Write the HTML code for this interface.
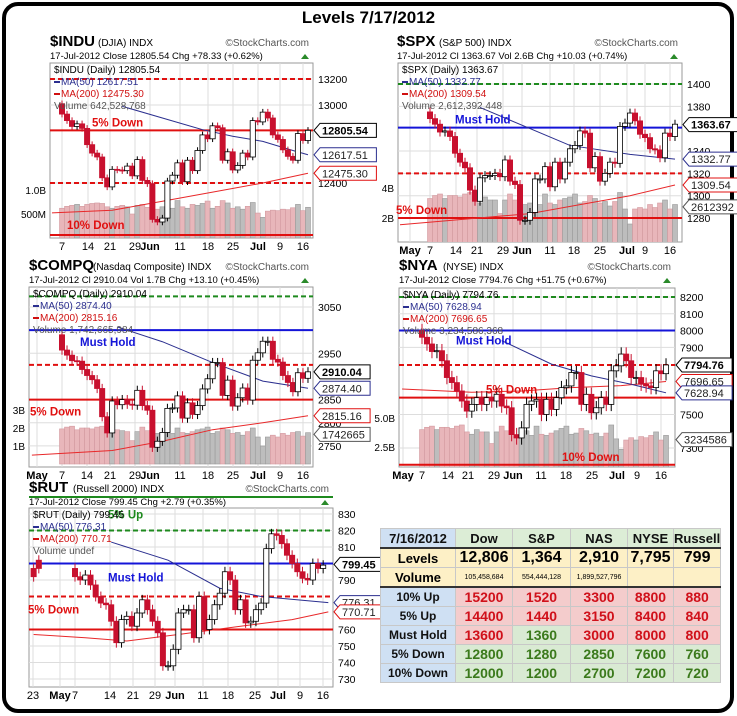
<!DOCTYPE html>
<html><head><meta charset="utf-8"><style>
html,body{margin:0;padding:0;background:#fff;}
body{width:737px;height:716px;overflow:hidden;position:relative;font-family:"Liberation Sans",sans-serif;}
#frame{position:absolute;left:2px;top:2px;width:724px;height:703px;border:4px solid #000;border-radius:16px;}
#title{position:absolute;left:0;width:737px;top:8px;text-align:center;font-weight:bold;font-size:17px;}
svg{position:absolute;left:0;top:0;}
table{position:absolute;left:380px;top:528px;border-collapse:collapse;font-family:"Liberation Sans",sans-serif;font-weight:bold;}
td{border:1px solid #c8c8c8;padding:0;text-align:center;height:18px;font-size:13px;}
.lb{background:#cfe0f3;color:#111;font-size:12px;}
.hd{background:#dcedd6;color:#111;font-size:13px;}
.yl{background:#fdf0c6;color:#000;}
.pk{background:#f4cccc;color:#d0101a;font-size:14px;}
.gr{background:#d9ead3;color:#3b7a1c;font-size:14px;}
</style></head><body>
<div id="frame"></div>
<div id="title">Levels 7/17/2012</div>
<svg id="chart" width="737" height="716"></svg>
<table>
<tr style="height:17px"><td class="lb" style="width:74px;font-size:13px">7/16/2012</td><td class="hd" style="width:56px">Dow</td><td class="hd" style="width:57px">S&amp;P</td><td class="hd" style="width:56px">NAS</td><td class="hd" style="width:45px">NYSE</td><td class="hd" style="width:45px">Russell</td></tr>
<tr style="border-top:2px solid #333"><td class="yl" style="font-size:13px">Levels</td><td class="yl" style="font-size:16px">12,806</td><td class="yl" style="font-size:16px">1,364</td><td class="yl" style="font-size:16px">2,910</td><td class="yl" style="font-size:16px">7,795</td><td class="yl" style="font-size:16px">799</td></tr>
<tr style="border-bottom:2px solid #333"><td class="yl" style="font-size:13px">Volume</td><td class="yl" style="font-size:7px;font-weight:normal">105,458,684</td><td class="yl" style="font-size:7px;font-weight:normal">554,444,128</td><td class="yl" style="font-size:7px;font-weight:normal">1,899,527,796</td><td class="yl"></td><td class="yl"></td></tr>
<tr><td class="lb">10% Up</td><td class="pk">15200</td><td class="pk">1520</td><td class="pk">3300</td><td class="pk">8800</td><td class="pk">880</td></tr>
<tr><td class="lb">5% Up</td><td class="pk">14400</td><td class="pk">1440</td><td class="pk">3150</td><td class="pk">8400</td><td class="pk">840</td></tr>
<tr><td class="lb">Must Hold</td><td class="pk">13600</td><td class="gr">1360</td><td class="pk">3000</td><td class="pk">8000</td><td class="pk">800</td></tr>
<tr><td class="lb">5% Down</td><td class="gr">12800</td><td class="gr">1280</td><td class="gr">2850</td><td class="gr">7600</td><td class="gr">760</td></tr>
<tr><td class="lb">10% Down</td><td class="gr">12000</td><td class="gr">1200</td><td class="gr">2700</td><td class="gr">7200</td><td class="gr">720</td></tr>
</table>
<script>
// ---------- data ----------
const induOpen=[13010,12930,12880,12835,12855,12820,12695,12630,12600,12440,12370,12505,12500,12495,12530,12455,12580,12420,12395,12120,12100,12130,12415,12460,12555,12410,12575,12495,12650,12770,12740,12840,12825,12575,12640,12500,12535,12630,12600,12880,12870,12945,12900,12770,12735,12655,12605,12575,12780,12727];
const induClose=[12930,12880,12835,12855,12820,12695,12630,12600,12440,12370,12505,12500,12495,12530,12455,12580,12420,12395,12120,12100,12130,12415,12460,12555,12410,12575,12495,12650,12770,12740,12840,12825,12575,12640,12500,12535,12630,12600,12880,12870,12945,12900,12770,12735,12655,12605,12575,12780,12727,12805];
const induVol=[.62,.66,.68,.7,.66,.7,.72,.73,.72,.65,.62,.66,.68,.65,.5,.68,.7,.64,.78,.6,.65,.72,.62,.78,.65,.62,.7,.68,.72,.77,.62,.66,.78,.73,.62,.65,.6,.66,.74,.52,.43,.56,.58,.57,.6,.59,.63,.7,.57,.64];
const induMa50Idx=[12,20,28,34,40,46,49], induMa50=[12990,12900,12810,12760,12720,12650,12617.51];
const induMa200Idx=[-2,10,20,30,40,49], induMa200=[12170,12190,12260,12330,12400,12475.30];

const spxOpen=[1375,1369,1364,1357,1358,1353,1338,1330,1325,1305,1295,1316,1318,1318,1320,1317,1332,1313,1310,1278,1278,1285,1315,1315,1326,1308,1330,1315,1330,1342,1345,1358,1356,1325,1335,1313,1320,1330,1329,1362,1365,1374,1367,1355,1352,1342,1341,1334,1356,1353];
const spxClose=[1369,1364,1357,1358,1353,1338,1330,1325,1305,1295,1316,1318,1318,1320,1317,1332,1313,1310,1278,1278,1285,1315,1315,1326,1308,1330,1315,1330,1342,1345,1358,1356,1325,1335,1313,1320,1330,1329,1362,1365,1374,1367,1355,1352,1342,1341,1334,1356,1353,1364];
const spxVol=[3.3,3.5,3.6,3.3,3.5,3.5,3.4,3.6,3.7,3.2,3.0,3.4,3.2,3.2,2.3,3.2,3.6,3.2,3.6,2.9,3.0,3.3,2.9,3.6,3.0,2.9,3.2,3.3,3.4,3.6,3.0,3.1,3.5,3.3,3.0,3.1,2.8,3.1,3.7,2.6,1.6,2.6,2.7,2.6,2.9,2.7,3.0,3.2,2.6,2.9];
const spxMa50Idx=[10,28,40,49], spxMa50=[1379,1345,1337,1332.77];
const spxMa200Idx=[-6,20,30,40,49], spxMa200=[1274,1284,1292,1300,1309.54];

const compqOpen=[2990,2957,2946,2934,2933,2915,2902,2893,2874,2813,2778,2847,2839,2850,2840,2838,2870,2837,2827,2747,2760,2779,2831,2832,2858,2810,2843,2818,2837,2873,2895,2930,2930,2859,2892,2836,2854,2875,2849,2935,2951,2976,2976,2937,2931,2902,2887,2867,2908,2896];
const compqClose=[2957,2946,2934,2933,2915,2902,2893,2874,2813,2778,2847,2839,2850,2840,2838,2870,2837,2827,2747,2760,2779,2831,2832,2858,2810,2843,2818,2837,2873,2895,2930,2930,2859,2892,2836,2854,2875,2849,2935,2951,2976,2976,2937,2931,2902,2887,2867,2908,2896,2910];
const compqVol=[1.95,2.05,2.1,1.9,2.0,2.0,1.95,2.05,2.1,1.85,1.75,1.9,1.85,1.8,1.3,1.8,2.05,1.85,2.0,1.7,1.7,1.9,1.7,2.0,1.75,1.7,1.8,1.9,1.95,2.05,1.7,1.8,2.0,1.9,1.7,1.75,1.6,1.8,2.0,1.5,1.0,1.5,1.6,1.5,1.7,1.6,1.75,1.8,1.55,1.74];
const compqMa50Idx=[11,20,30,40,49], compqMa50=[3007,2975,2930,2890,2874.40];
const compqMa200Idx=[-6,10,20,30,40,49], compqMa200=[2730,2740,2760,2785,2800,2815.16];

const nyaOpen=[8000,7960,7920,7875,7880,7820,7720,7690,7640,7580,7520,7560,7600,7560,7600,7580,7620,7550,7540,7380,7360,7420,7560,7580,7590,7500,7590,7530,7600,7660,7670,7750,7750,7560,7620,7510,7540,7600,7560,7760,7790,7860,7820,7720,7720,7680,7670,7660,7760,7743];
const nyaClose=[7960,7920,7875,7880,7820,7720,7690,7640,7580,7520,7560,7600,7560,7600,7580,7620,7550,7540,7380,7360,7420,7560,7580,7590,7500,7590,7530,7600,7660,7670,7750,7750,7560,7620,7510,7540,7600,7560,7760,7790,7860,7820,7720,7720,7680,7670,7660,7760,7743,7795];
const nyaVol=[4.0,4.2,4.3,4.0,4.2,4.2,4.1,4.3,4.4,3.8,3.6,4.0,3.8,3.8,2.8,3.8,4.3,3.9,4.3,3.5,3.6,3.9,3.5,4.3,3.6,3.5,3.7,3.9,4.1,4.3,3.6,3.7,4.1,3.9,3.6,3.7,3.4,3.7,4.4,3.2,2.3,3.1,3.3,3.1,3.4,3.3,3.5,3.8,3.1,3.5];
const nyaMa50Idx=[16,26,34,42,49], nyaMa50=[7940,7800,7730,7680,7628.94];
const nyaMa200Idx=[-4,10,20,30,40,49], nyaMa200=[7652,7632,7640,7660,7672,7696.65];

const rutOpen=[797,802,797,792,790,793,787,780,776,775,765,752,766,768,762,770,778,772,765,758,738,738,748,770,772,772,755,780,760,766,775,782,795,790,772,778,764,765,772,776,809,818,817,812,805,800,795,791,790,800,797];
const rutClose=[792,797,792,790,793,787,780,776,775,765,752,766,768,762,770,778,772,765,758,738,738,748,770,772,772,755,780,760,766,775,782,795,790,772,778,764,765,772,776,809,818,817,812,805,800,795,791,790,800,797,799];
const rutIdx=[-8,-7,0,1,2,3,4,5,6,7,8,9,10,11,12,13,14,15,16,17,18,19,20,21,22,23,24,25,26,27,28,29,30,31,32,33,34,35,36,37,38,39,40,41,42,43,44,45,46,47,48];
const rutMa50Idx=[7,18,28,36,49], rutMa50=[813,802,785,780,776.31];
const rutMa200Idx=[-8,2,10,20,32,42,49], rutMa200=[757,755,753,757,762,766,770.71];

const induTicks=[13200,13000,12400], spxTicks=[1400,1380,1340,1320,1300,1280], compqTicks=[3050,2950,2850,2800,2750], nyaTicks=[8200,8100,8000,7900,7500,7300], rutTicks=[830,820,810,790,760,750,740,730];

// ---------- drawing ----------
const NS='http://www.w3.org/2000/svg';
const svg=document.getElementById('chart');
function mk(tag,attrs,parent,txt){const e=document.createElementNS(NS,tag);for(const k in attrs)e.setAttribute(k,attrs[k]);if(txt!==undefined)e.textContent=txt;(parent||svg).appendChild(e);return e;}

function panel(P){
  const g=mk('g',{});
  
  
  const yv=v=>P.y0+(P.v0-v)*P.k;
  const xv=i=>P.xd0+i*P.dx;
  const vy=v=>P.vz-v*P.vk;
  const h=mk('text',{x:P.hx,y:P.top-8,'font-size':15,'font-weight':'bold'},g,P.sym);
  
  
  mk('text',{x:P.hx+P.symW,y:P.top-8,'font-size':10},g,P.sub);
  mk('text',{x:P.R-4,y:P.top-8,'font-size':10,fill:'#555','text-anchor':'end'},g,'©StockCharts.com');
  mk('text',{x:P.hx,y:P.top+5,'font-size':9.5},g,P.line2);
  mk('path',{d:`M${P.R-12} ${P.top+5}l4 -5l4 5z`,fill:'#2a8a2a'},g);
  const clip='c'+P.name;
  const cp=mk('clipPath',{id:clip},g);mk('rect',{x:P.L,y:P.T,width:P.R-P.L,height:P.B-P.T},cp);
  mk('rect',{x:P.L,y:P.T,width:P.R-P.L,height:P.B-P.T,fill:'#fff',stroke:'#999'},g);
  const pg=mk('g',{'clip-path':`url(#${clip})`},g);
  P.xl.forEach(([t,x])=>{mk('line',{x1:x,x2:x,y1:P.T,y2:P.B,stroke:'#ddd'},pg);});
  P.ticks.forEach(v=>{mk('line',{x1:P.L,x2:P.R,y1:yv(v),y2:yv(v),stroke:'#ddd'},pg);
    const t=mk('text',{x:P.R+5,y:yv(v)+4,'font-size':10.5},g,v);});
  if(P.vol){P.vol.forEach((v,i)=>{const up=P.close[i]>=P.open[i];
    const b=mk('rect',{x:xv(i)-2.5,y:vy(v),width:5,height:P.vz-vy(v),fill:up?'#bdbdbd':'#e8b6ba',stroke:up?'#9a9a9a':'#d39aa0','stroke-width':.6},pg);
    });
    P.vt.forEach(([t,v])=>mk('text',{x:P.L-4,y:vy(v)+4,'font-size':10,'text-anchor':'end'},g,t));}
  P.levels.forEach(l=>{const y=yv(l.v);const ln=mk('line',{x1:P.L,x2:P.R,y1:y,y2:y,stroke:l.c,'stroke-width':2,'stroke-dasharray':l.d?'5,3':''},pg);
    
    if(l.t){mk('text',{x:l.tx,y:y+(l.ty||-4),'font-size':11.5,'font-weight':'bold',fill:l.c},g,l.t);}});
  [[P.m200i,P.m200,'#e8282a'],[P.m50i,P.m50,'#2b2f8f']].forEach(([ix,vs,c])=>{
    const m=mk('polyline',{points:ix.map((d,j)=>xv(d)+','+yv(vs[j])).join(' '),fill:'none',stroke:c,'stroke-width':1},pg);
    });
  P.close.forEach((c,j)=>{const o=P.open[j];const i=P.idx?P.idx[j]:j;const x=xv(i);const dn=c<o;
    const hi=Math.max(o,c)+P.w,lo=Math.min(o,c)-P.w;
    mk('line',{x1:x,x2:x,y1:yv(hi),y2:yv(lo),stroke:dn?'#c8102e':'#000'},pg);
    const r=mk('rect',{x:x-2.6,y:yv(Math.max(o,c)),width:5.2,height:Math.max(1,Math.abs(yv(o)-yv(c))),fill:dn?'#c8102e':'#fff',stroke:dn?'#c8102e':'#000','stroke-width':.8},pg);
    });
  const lg=[[P.leg0,'#000'],['MA(50) '+P.m50[P.m50.length-1].toFixed(2),'#2b2f8f'],['MA(200) '+P.m200[P.m200.length-1].toFixed(2),'#d01010']];
  if(P.legV)lg.push([P.legV,'#555']);
  lg.forEach(([t,c],k)=>{const y=P.T+10+k*12;if(k>0&&k<3)mk('line',{x1:P.L+4,x2:P.L+10,y1:y-3,y2:y-3,stroke:c,'stroke-width':2},g);
    mk('text',{x:P.L+(k>0&&k<3?11:4),y:y,'font-size':10,fill:c},g,t);});
  P.xl.forEach(([t,x])=>{const e=mk('text',{x:x,y:P.B+12,'font-size':11,'text-anchor':'middle','font-weight':/[A-Z]/.test(t)?'bold':'normal'},g,t);
    });
  P.tags.forEach(([t,v,c,b])=>{const y=yv(v);const w=t.length*6.3+6;
    mk('path',{d:`M${P.R+1} ${y}l6 -7h${w}v14h${-w}z`,fill:'#fff',stroke:c},g);
    mk('text',{x:P.R+9,y:y+4,'font-size':11,'font-weight':b?'bold':'normal',fill:b?'#000':'#222'},g,t);});
}

panel({name:'indu',sym:'$INDU',symW:48,sub:'(DJIA) INDX',line2:'17-Jul-2012   Close 12805.54  Chg +78.33 (+0.62%)',hx:50,top:54,
 L:50,R:313,T:63,B:238,v0:13200,y0:79,k:0.13,xd0:62,dx:5.02,w:25,
 open:induOpen,close:induClose,vol:induVol,vz:238,vk:48,vt:[['1.0B',1.0],['500M',0.5]],
 m50i:induMa50Idx,m50:induMa50,m200i:induMa200Idx,m200:induMa200,ticks:induTicks,
 leg0:'$INDU (Daily) 12805.54',legV:'Volume 642,528,768',
 levels:[{v:13200,c:'#e01010',d:1},{v:12805,c:'#e01010',t:'5% Down',tx:92},{v:12400,c:'#e01010',d:1},{v:12000,c:'#e01010',t:'10% Down',tx:67,ty:-6}],
 xl:[['7',62],['14',88],['21',110],['29',135],['Jun',150],['11',180],['18',208],['25',233],['Jul',258],['9',280],['16',303]],
 tags:[['12805.54',12805,'#000',1],['12617.51',12617,'#2b2f8f'],['12475.30',12475,'#e01010']]});

panel({name:'spx',sym:'$SPX',symW:42,sub:'(S&P 500) INDX',line2:'17-Jul-2012  Cl 1363.67  Vol 2.6B  Chg +10.03 (+0.74%)',hx:397,top:54,
 L:398,R:682,T:63,B:242,v0:1400,y0:84,k:1.117,xd0:430,dx:5.0,w:4,
 open:spxOpen,close:spxClose,vol:spxVol,vz:248,vk:15,vt:[['4B',4],['2B',2]],
 m50i:spxMa50Idx,m50:spxMa50,m200i:spxMa200Idx,m200:spxMa200,ticks:spxTicks,
 leg0:'$SPX (Daily) 1363.67',legV:'Volume 2,612,392,448',
 levels:[{v:1400,c:'#1e8a1e',d:1},{v:1361,c:'#1414d8',t:'Must Hold',tx:455},{v:1320,c:'#e01010',d:1},{v:1280,c:'#e01010',t:'5% Down',tx:396}],
 xl:[['May',410],['7',430],['14',456],['21',477],['29',503],['Jun',522],['11',550],['18',574],['25',600],['Jul',627],['9',645],['16',670]],
 tags:[['1363.67',1363.67,'#000',1],['1332.77',1332.77,'#2b2f8f'],['1309.54',1309.54,'#e01010'],['2612392',1290,'#555']]});

panel({name:'compq',sym:'$COMPQ',symW:64,sub:'(Nasdaq Composite) INDX',line2:'17-Jul-2012  Cl 2910.04  Vol 1.7B  Chg +13.10 (+0.45%)',hx:29,top:278,
 L:29,R:313,T:287,B:467,v0:3050,y0:307,k:0.463,xd0:62,dx:5.02,w:10,
 open:compqOpen,close:compqClose,vol:compqVol,vz:464,vk:18,vt:[['3B',3],['2B',2],['1B',1]],
 m50i:compqMa50Idx,m50:compqMa50,m200i:compqMa200Idx,m200:compqMa200,ticks:compqTicks,
 leg0:'$COMPQ (Daily) 2910.04',legV:'Volume 1,742,665,984',
 levels:[{v:3073,c:'#1e8a1e',d:1},{v:3000,c:'#1414d8',t:'Must Hold',tx:80,ty:16},{v:2925,c:'#e01010',d:1},{v:2850,c:'#e01010',t:'5% Down',tx:30,ty:16}],
 xl:[['May',37],['7',62],['14',87],['21',110],['29',135],['Jun',150],['11',180],['18',208],['25',233],['Jul',258],['9',280],['16',303]],
 tags:[['2910.04',2910,'#000',1],['2874.40',2874.4,'#2b2f8f'],['2815.16',2815,'#e01010'],['1742665',2775,'#555']]});

panel({name:'nya',sym:'$NYA',symW:44,sub:'(NYSE) INDX',line2:'17-Jul-2012          Close 7794.76  Chg +51.75 (+0.67%)',hx:399,top:278,
 L:399,R:675,T:288,B:467,v0:8200,y0:297,k:0.1678,xd0:422,dx:4.98,w:40,
 open:nyaOpen,close:nyaClose,vol:nyaVol,vz:476,vk:11.6,vt:[['5.0B',5],['2.5B',2.5]],
 m50i:nyaMa50Idx,m50:nyaMa50,m200i:nyaMa200Idx,m200:nyaMa200,ticks:nyaTicks,
 leg0:'$NYA (Daily) 7794.76',legV:'Volume 3,234,586,368',
 levels:[{v:8200,c:'#1e8a1e',d:1},{v:8000,c:'#1414d8',t:'Must Hold',tx:456,ty:14},{v:7795,c:'#e01010',d:1},{v:7600,c:'#e01010',t:'5% Down',tx:486},{v:7200,c:'#e01010',t:'10% Down',tx:562,ty:-4}],
 xl:[['May',403],['7',422],['14',448],['21',468],['29',494],['Jun',513],['11',541],['18',566],['25',592],['Jul',617],['9',637],['16',661]],
 tags:[['7794.76',7794.76,'#000',1],['7696.65',7696.65,'#e01010'],['7628.94',7628.94,'#2b2f8f'],['3234586',7350,'#555']]});

panel({name:'rut',sym:'$RUT',symW:44,sub:'(Russell 2000) INDX',line2:'17-Jul-2012                 Close 799.45  Chg +2.79 (+0.35%)',hx:29,top:500,
 L:29,R:333,T:508,B:687,v0:830,y0:514,k:1.65,xd0:75,dx:5.17,w:3,
 open:rutOpen,close:rutClose,idx:rutIdx,
 m50i:rutMa50Idx,m50:rutMa50,m200i:rutMa200Idx,m200:rutMa200,ticks:rutTicks,
 leg0:'$RUT (Daily) 799.45',legV:'Volume undef',
 levels:[{v:820,c:'#1e8a1e',d:1,t:'5% Up',tx:108,ty:-12},{v:800,c:'#1414d8',t:'Must Hold',tx:108,ty:18},{v:780,c:'#e01010',d:1},{v:760,c:'#e01010',t:'5% Down',tx:28,ty:-16}],
 xl:[['23',33],['May',60],['7',75],['14',110],['21',133],['29',155],['Jun',175],['11',203],['18',228],['25',255],['Jul',278],['9',300],['16',323]],
 tags:[['799.45',799.45,'#000',1],['776.31',776.31,'#2b2f8f'],['770.71',770.71,'#e01010']]});
const gl=mk('line',{x1:29,x2:333,y1:497,y2:497,stroke:'#1e8a1e','stroke-width':2});


</script>
</body></html>
